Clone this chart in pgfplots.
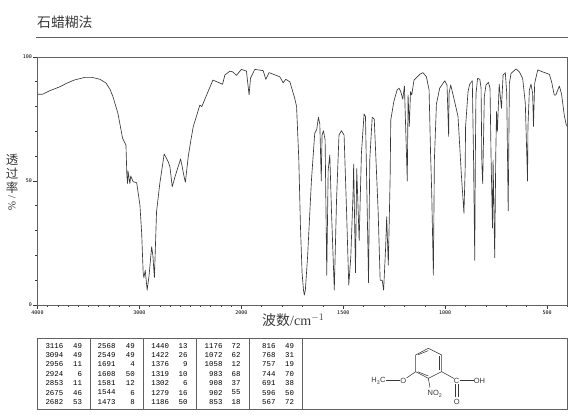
\documentclass[border=0pt]{standalone}
\usepackage{pgfplots}
\usepackage{pgfplotstable}
\usepackage{fontspec}
\pgfplotsset{compat=1.18}
\setmainfont{Liberation Serif}
\setmonofont{Liberation Mono}
\setsansfont{Liberation Sans}
\newfontfamily\cjk{Noto Sans CJK SC}
\newfontfamily\tickfont{DejaVu Sans Mono}
\definecolor{ink}{gray}{0.22}
\definecolor{frame}{gray}{0.38}
\pgfplotstableread{
wn t
4000 85
3950 85
3880 86.4
3780 88
3714 89.4
3640 90.7
3534 91.8
3466 91.8
3387 91
3328 89.5
3289 87
3260 84
3211 77.3
3165 67.2
3132 64.5
3123 52
3116 49
3112 54
3105 52
3094 49
3085 52
3061 49.7
3027 49.3
3002 42.3
2995 40.3
2978 29
2963 12.9
2956 11
2943 14
2924 6
2905 12
2880 23.5
2868 20
2853 11
2832 37.6
2800 49
2757 60.9
2718 57.8
2701 55.8
2678 47.7
2651 51.7
2596 58.9
2580 55.8
2568 53
2549 49.5
2521 59.8
2495 66.5
2472 71.9
2407 80.6
2388 80
2279 90.7
2184 89
2162 92.7
2113 94.3
2085 94
2047 92.6
2000 95
1975 94.3
1962 84.7
1955 91.5
1934 95
1893 94.5
1880 91
1864 93.7
1811 92
1795 89.6
1782 91
1762 90
1738 83.3
1729 80
1718 58.5
1710 31.6
1702 12.8
1695 6
1691 4
1686 6
1675 19.5
1656 50.4
1640 69.2
1630 70.8
1622 75.7
1615 73
1608 50
1604 68.5
1597 70.3
1589 66.5
1581 12
1574 54.4
1566 60.5
1558 38.3
1544 6
1533 42.3
1521 68.5
1509 70.3
1496 68.5
1484 38.3
1473 8
1463 19.5
1452 45
1449 56.8
1440 13
1434 55
1422 26
1411 61
1398 77
1391 76
1376 9
1370 58.5
1358 75.7
1348 75
1329 38
1319 10
1309 10
1302 6
1292 23.5
1287 35.6
1279 16
1270 51.7
1267 74.6
1252 82
1236 86.7
1226 87.4
1218 86
1208 83
1200 88.3
1186 50
1182 84.7
1176 72
1170 86
1164 84.7
1153 90.7
1125 93
1109 93.7
1092 92
1079 86.7
1072 62
1066 45
1058 12
1053 58.5
1043 81
1027 87.4
1002 90.4
991 88.7
983 68
981 85.3
973 88.7
962 85
937 76
921 53
908 37
902 55
900 71.9
888 86
880 89
867 90.4
861 60
855 18
852 60
849 85
841 91.4
830 91
824 87.4
820 56.4
816 49
808 84
800 88.7
788 89.8
780 87.4
775 59.8
768 31
765 58.5
757 19
752 60
748 78
744 70
735 89
724 79.3
716 92.7
705 93.7
698 85.3
691 38
685 89.4
677 93.4
652 95.2
636 94
620 91.4
607 81.4
596 50
594 71.9
587 86.7
579 89
571 85.3
567 72
561 89.4
546 94.8
522 94
489 93
478 90
465 84.7
457 84.7
440 88.3
429 85
416 76.6
406 72.6
400 72
}\spectrum
\begin{document}
\begin{tikzpicture}[x=1pt,y=1pt]
\useasboundingbox (0,0) rectangle (570,417);
% title
\node[anchor=west,inner sep=0pt,text=ink,font=\cjk\fontsize{13.8}{14}\selectfont] at (37,395) {石蜡糊法};
\draw[frame,line width=0.9pt] (36,380) -- (567.5,380);
% axis
\begin{axis}[
  at={(37.5pt,112pt)},anchor=south west,
  scale only axis,width=530pt,height=248pt,
  xmin=400,xmax=3000,ymin=0,ymax=100,
  x dir=reverse,
  axis line style={draw=frame,line width=0.9pt},
  xtick={3000,2500,2000,1500,1000,500},
  xticklabels={4000,3000,2000,1500,1000,500},
  minor xtick={2950,2900,2850,2800,2750,2700,2650,2600,2550,2450,2400,2350,2300,2250,2200,2150,2100,2050,1900,1800,1700,1600,1400,1300,1200,1100,900,800,700,600,400},
  ytick={0,50,100},
  minor ytick={10,20,30,40,60,70,80,90},
  tick align=outside,
  tick pos=left,
  major tick length=4pt,minor tick length=2pt,
  tick style={draw=ink,line width=0.6pt},
  minor tick style={draw=ink,line width=0.6pt},
  /pgf/number format/assume math mode=true,
  ticklabel style={font=\tickfont\fontsize{5}{6}\selectfont,text=black,inner sep=1pt},
  xticklabel style={yshift=-1pt},
  yticklabel style={xshift=-0.5pt},
  clip=true,
]
\addplot[draw=ink,line width=0.65pt,line join=round,no marks]
  table[x expr={\thisrow{wn}>=2000 ? \thisrow{wn}/2+1000 : \thisrow{wn}},y=t] {\spectrum};
\end{axis}
% axis titles
\begin{scope}[every node/.style={inner sep=0pt,text=ink}]
\node[font=\cjk\fontsize{12.5}{13}\selectfont] at (12,257.5) {透};
\node[font=\cjk\fontsize{12.5}{13}\selectfont] at (12,243.5) {过};
\node[font=\cjk\fontsize{12.5}{13}\selectfont] at (12,229.5) {率};
\node[font=\rmfamily\fontsize{11}{12}\selectfont,rotate=-90] at (12,219.5) {/};
\node[font=\rmfamily\fontsize{11}{12}\selectfont,rotate=-90] at (12,211) {\%};
\node[anchor=west] at (262,96.5) {{\cjk\fontsize{14}{15}\selectfont 波数}{\rmfamily\fontsize{14}{15}\selectfont/cm$^{-1}$}};
\end{scope}
% peak table
\draw[frame,line width=0.9pt] (37.3,8) rectangle (567.7,79);
\foreach \x in {90.7,143.3,196.3,249.3,302.7} \draw[frame,line width=0.9pt] (\x,8) -- (\x,79);
\newcommand{\peakcol}[3]{%
  \foreach \a/\b [count=\i from 0] in {#3} {
    \pgfmathsetmacro{\yy}{417-(345.7+9.38*\i)}
    \node[anchor=east,inner sep=0pt,text=black,font=\ttfamily\fontsize{7.4}{8}\selectfont] at (#1,\yy) {\a};
    \node[anchor=east,inner sep=0pt,text=black,font=\ttfamily\fontsize{7.4}{8}\selectfont] at (#2,\yy) {\b};
  }}
\peakcol{63.5}{82.3}{3116/49,3094/49,2956/11,2924/6,2853/11,2675/46,2682/53}
\peakcol{115.7}{135}{2568/49,2549/49,1691/4,1608/50,1581/12,1544/6,1473/8}
\peakcol{169.3}{187.7}{1440/13,1422/26,1376/9,1319/10,1302/6,1279/16,1186/50}
\peakcol{222.7}{240.7}{1176/72,1072/62,1058/12,983/68,908/37,902/55,853/18}
\peakcol{275.7}{294.3}{816/49,768/31,757/19,744/70,691/38,596/50,567/72}
% structure
\begin{scope}[draw=ink,line width=0.55pt]
\draw (428.3,68.7) -- (441.7,62) -- (441.7,45.3) -- (428.3,38.7) -- (415.7,45.3) -- (415.7,62) -- cycle;
\draw (418,62.2) -- (428.3,66.4);
\draw (439.6,60.5) -- (439.6,47);
\draw (418,45.2) -- (428.3,41);
\draw (428.3,38.7) -- (430,29.5);
\draw (441.7,45.3) -- (454,38.5);
\draw (459.5,36.3) -- (474,36.3);
\draw (455.7,33) -- (455.7,19.5);
\draw (457.9,33) -- (457.9,19.5);
\draw (415.7,45.3) -- (406.5,39);
\draw (400,36.3) -- (386,36.3);
\end{scope}
\begin{scope}[every node/.style={inner sep=0pt,text=ink,font=\sffamily\fontsize{7.5}{8}\selectfont}]
\node at (378.5,36) {H$_{\mathsf 3}$C};
\node at (403.3,36.3) {O};
\node at (435,23) {NO$_{\mathsf 2}$};
\node at (456.7,36.3) {C};
\node at (456.7,15.3) {O};
\node at (479.5,36.3) {OH};
\end{scope}
\end{tikzpicture}
\end{document}
